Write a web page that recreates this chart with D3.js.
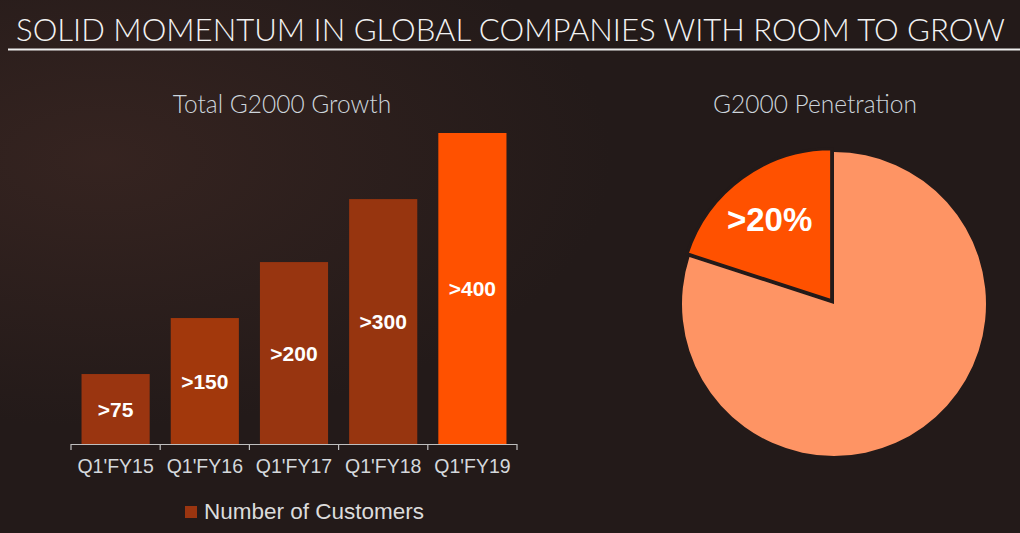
<!DOCTYPE html>
<html><head><meta charset="utf-8">
<script src="https://cdn.jsdelivr.net/npm/d3@7/dist/d3.min.js"></script>
<style>html,body{margin:0;padding:0;background:#231a19;}svg{display:block;}</style>
</head><body>
<script>
const categories = ["Q1'FY15","Q1'FY16","Q1'FY17","Q1'FY18","Q1'FY19"];
const customers = [90, 162, 234, 315, 400];
const barLabels = [">75", ">150", ">200", ">300", ">400"];
const barColors = ["#9a3510","#a2380c","#983510","#97350f","#ff5100"];
const pieNames = ["G2000 customers", "Rest of G2000"];
const pieValues = [20, 80];
const pieLabels = [">20%", ""];
const pieColors = ["#ff5100", "#fe9464"];

const W = 1020, H = 533;
const svg = d3.select("body").append("svg").attr("width", W).attr("height", H);

const defs = svg.append("defs");
const g1 = defs.append("radialGradient").attr("id","bgl").attr("cx","0.1").attr("cy","0.3").attr("r","0.5");
g1.append("stop").attr("offset","0").attr("stop-color","#3a2622");
g1.append("stop").attr("offset","1").attr("stop-color","#231a19");
svg.append("rect").attr("width",W).attr("height",H).attr("fill","#231a19");
svg.append("rect").attr("width",W).attr("height",H).attr("fill","url(#bgl)").attr("opacity",0.8);

// Title
svg.append("text").attr("x",16).attr("y",41)
  .attr("font-family","Lato, 'Open Sans', sans-serif").attr("font-weight",300)
  .attr("font-size",31).attr("fill","#f2f2f2")
  .attr("textLength",989).attr("lengthAdjust","spacingAndGlyphs")
  .text("SOLID MOMENTUM IN GLOBAL COMPANIES WITH ROOM TO GROW");
svg.append("line").attr("x1",8).attr("x2",W).attr("y1",49.5).attr("y2",49.5)
  .attr("stroke","#eeeeee").attr("stroke-width",2);

// Bar chart
const x = d3.scaleBand().domain(categories).range([71, 517]).paddingInner(0.236).paddingOuter(0.118);
const y = d3.scaleLinear().domain([0, 400]).range([444, 133]);

svg.append("text").attr("x",282).attr("y",113).attr("text-anchor","middle")
  .attr("font-family","Lato, 'Open Sans', sans-serif").attr("font-weight",300)
  .attr("font-size",24.5).attr("fill","#cdd5dc").text("Total G2000 Growth");

svg.selectAll("rect.bar").data(customers).join("rect").attr("class","bar")
  .attr("x",(d,i)=>x(categories[i])).attr("width",x.bandwidth())
  .attr("y",d=>y(d)).attr("height",d=>y(0)-y(d))
  .attr("fill",(d,i)=>barColors[i]);

svg.selectAll("text.bl").data(customers).join("text").attr("class","bl")
  .attr("x",(d,i)=>x(categories[i])+x.bandwidth()/2)
  .attr("y",d=>(y(d)+y(0))/2).attr("dy","0.36em").attr("text-anchor","middle")
  .attr("font-family","Liberation Sans, Arial, sans-serif").attr("font-weight","bold")
  .attr("font-size",21).attr("fill","#ffffff").text((d,i)=>barLabels[i]);

const xAxis = d3.axisBottom(x).tickSize(0).tickPadding(15);
const ax = svg.append("g").attr("transform","translate(0,444)").call(xAxis);
ax.select(".domain").remove();
ax.selectAll("text").attr("font-family","Liberation Sans, Arial, sans-serif")
  .attr("font-size",19.5).attr("fill","#d4d8dc");
// axis line with boundary ticks
const xs = categories.map(c=>x(c)-x.step()*x.paddingInner()/2).concat([517]);
xs[0]=71;
svg.append("line").attr("x1",71).attr("x2",517).attr("y1",444.5).attr("y2",444.5)
  .attr("stroke","#bfbfbf").attr("stroke-width",1.2);
svg.selectAll("line.tk").data(xs).join("line").attr("class","tk")
  .attr("x1",d=>d).attr("x2",d=>d).attr("y1",444).attr("y2",450)
  .attr("stroke","#bfbfbf").attr("stroke-width",1.2);

// Legend
svg.append("rect").attr("x",185).attr("y",506).attr("width",12).attr("height",12).attr("fill",barColors[0]);
svg.append("text").attr("x",204).attr("y",519)
  .attr("font-family","Liberation Sans, Arial, sans-serif").attr("font-size",22.5)
  .attr("fill","#dcdcdc").text("Number of Customers");

// Pie chart
svg.append("text").attr("x",815).attr("y",113).attr("text-anchor","middle")
  .attr("font-family","Lato, 'Open Sans', sans-serif").attr("font-weight",300)
  .attr("font-size",24.5).attr("fill","#cdd5dc").text("G2000 Penetration");

const cx = 834, cy = 304, R = 152;
const pie = d3.pie().sort(null).startAngle(0).endAngle(-2*Math.PI)(pieValues);
const arc = d3.arc().innerRadius(0).outerRadius(R);
const pg = svg.append("g").attr("transform",`translate(${cx},${cy})`);
const order = [1,0];
order.forEach(i=>{
  const a = pie[i];
  const mid = (a.startAngle + a.endAngle)/2;
  const off = i===0 ? 4 : 0;
  const dx = Math.sin(mid)*off, dy = -Math.cos(mid)*off;
  const gg = pg.append("g").attr("transform",`translate(${dx},${dy})`);
  gg.append("path").attr("d",arc(a)).attr("fill",pieColors[i])
    .attr("stroke", i===0 ? "#231a19" : "none").attr("stroke-width",3).attr("stroke-linejoin","miter");
  if (pieLabels[i]) {
    gg.append("text").attr("x",-62).attr("y",-82).attr("dy","0.36em").attr("text-anchor","middle")
      .attr("font-family","Liberation Sans, Arial, sans-serif").attr("font-weight","bold")
      .attr("font-size",33).attr("fill","#ffffff").text(pieLabels[i]);
  }
});
</script>
</body></html>
